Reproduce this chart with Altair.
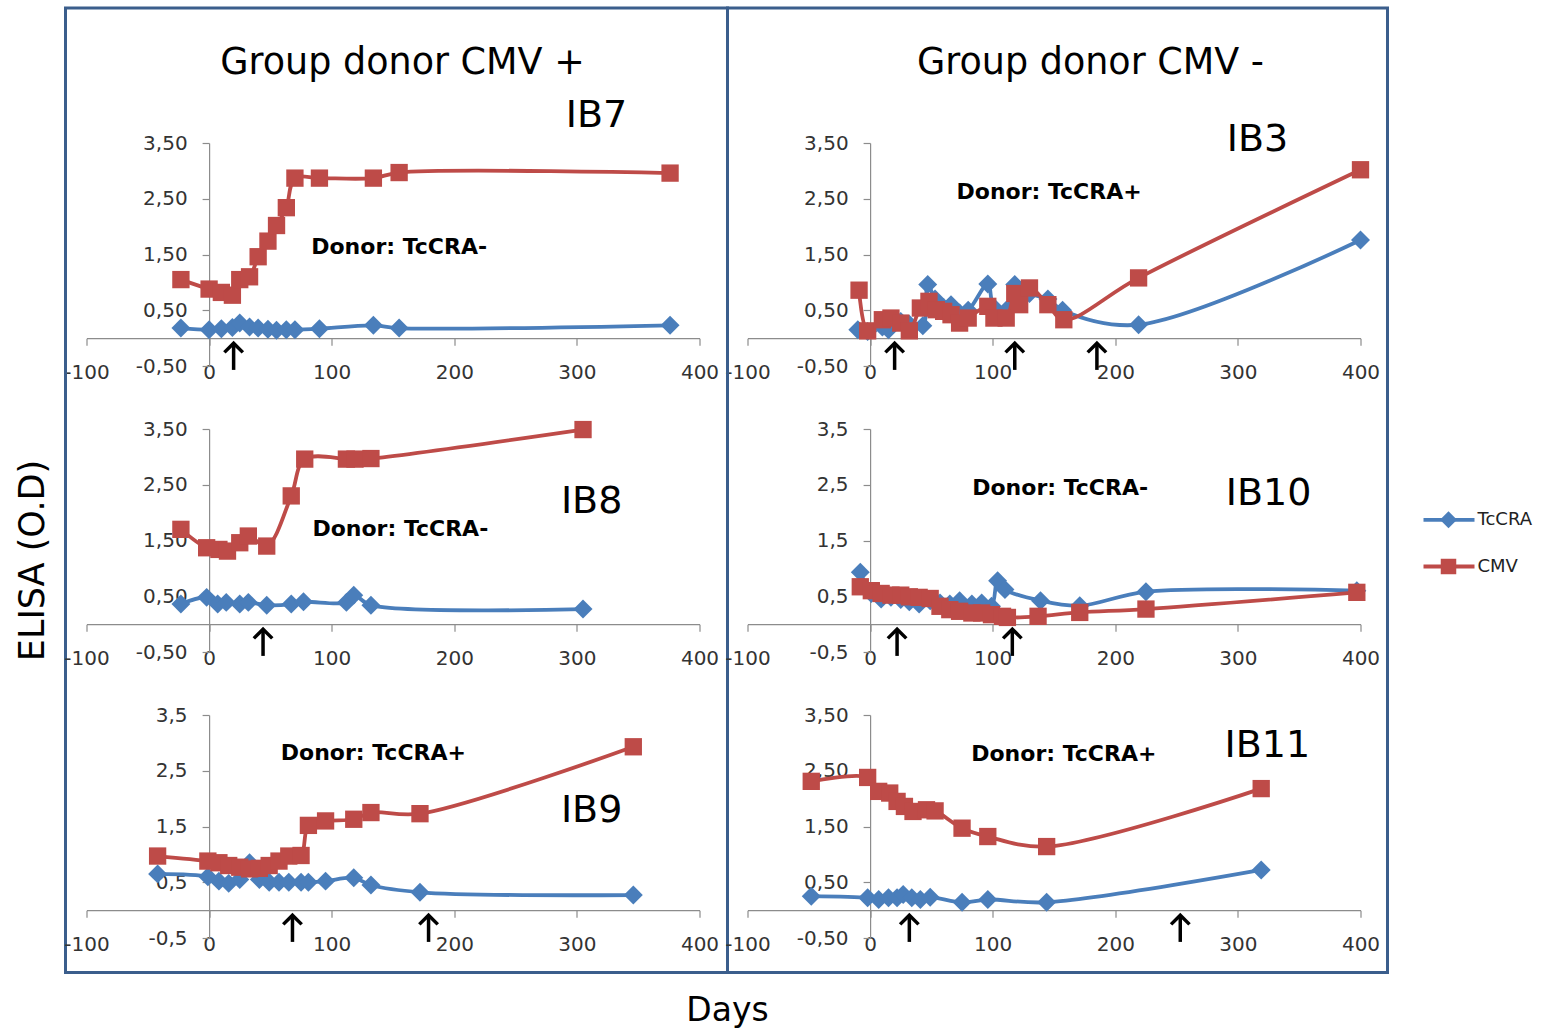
import altair as alt
import pandas as pd

FONT = "DejaVu Sans"
SERIES = ["TcCRA", "CMV"]
COLORS = {"TcCRA": "#4A7EBB", "CMV": "#BE4B48"}
SHAPES = {"TcCRA": "diamond", "CMV": "square"}
SIZES = {"TcCRA": 360, "CMV": 300}
BOX_COLOR = "#3B5E8C"
AXIS_COLOR = "#8C8C8C"
LABEL_COLOR = "#333333"

X_DOMAIN = [-100, 400]
Y_DOMAIN = [-0.5, 3.5]
X_TICKS = [-100, 0, 100, 200, 300, 400]
Y_TICKS = [-0.5, 0.5, 1.5, 2.5, 3.5]

GROUP_TITLES = ["Group donor CMV +", "Group donor CMV -"]
Y_TITLE = ["ELISA (O.D)"]
X_TITLE = ["Days"]

# ---------------- data (days, O.D. values) ----------------
ib7_days = [-23, 0, 10, 19, 25, 33, 40, 48, 55, 63, 70, 90, 134, 155, 376]
ib7_tccra = [0.18, 0.15, 0.17, 0.19, 0.27, 0.20, 0.18, 0.16, 0.14, 0.15, 0.15, 0.17, 0.23, 0.18, 0.23]
ib7_cmv = [1.05, 0.88, 0.82, 0.77, 1.05, 1.10, 1.46, 1.74, 2.02, 2.34, 2.87, 2.87, 2.87, 2.97, 2.96]
ib7_arrows = [20]

ib8_tc_days = [-23, -2, 7, 14, 25, 32, 47, 67, 77, 112, 118, 132, 305]
ib8_tccra = [0.36, 0.48, 0.36, 0.39, 0.36, 0.39, 0.34, 0.36, 0.40, 0.39, 0.52, 0.34, 0.27]
ib8_cmv_days = [-23, -2, 8, 15, 25, 32, 47, 67, 78, 112, 119, 132, 305]
ib8_cmv = [1.70, 1.37, 1.34, 1.31, 1.46, 1.58, 1.40, 2.30, 2.96, 2.96, 2.96, 2.97, 3.49]
ib8_arrows = [44]

ib9_days = [-42, -1, 8, 16, 25, 33, 41, 49, 57, 65, 75, 81, 95, 118, 132, 172, 346]
ib9_tccra = [0.65, 0.60, 0.52, 0.48, 0.55, 0.85, 0.55, 0.50, 0.50, 0.50, 0.50, 0.50, 0.52, 0.58, 0.45, 0.32, 0.27]
ib9_cmv = [0.97, 0.88, 0.85, 0.80, 0.77, 0.74, 0.75, 0.80, 0.88, 0.97, 0.98, 1.52, 1.60, 1.63, 1.75, 1.73, 2.93]
ib9_arrows = [68, 179]

ib3_tc_days = [-10, -2, 10, 15, 25, 32, 43, 47, 53, 60, 66, 73, 80, 96, 101, 111, 118, 130, 145, 157, 219, 400]
ib3_tccra = [0.15, 0.12, 0.20, 0.15, 0.30, 0.25, 0.22, 0.96, 0.70, 0.55, 0.60, 0.45, 0.50, 0.97, 0.55, 0.50, 0.96, 0.80, 0.70, 0.50, 0.24, 1.76]
ib3_cmv_days = [-9, -2, 10, 17, 25, 32, 41, 48, 54, 60, 66, 73, 80, 96, 101, 111, 118, 122, 130, 145, 158, 219, 400]
ib3_cmv = [0.86, 0.13, 0.33, 0.36, 0.27, 0.13, 0.54, 0.66, 0.51, 0.48, 0.42, 0.27, 0.36, 0.57, 0.36, 0.36, 0.80, 0.60, 0.90, 0.60, 0.33, 1.08, 3.02]
ib3_arrows = [20, 118, 185]

ib10_tc_days = [-8, 1, 9, 17, 25, 32, 40, 49, 57, 65, 73, 83, 91, 99, 104, 110, 139, 171, 225, 397]
ib10_tccra = [0.93, 0.55, 0.45, 0.48, 0.44, 0.40, 0.36, 0.42, 0.38, 0.36, 0.42, 0.36, 0.38, 0.32, 0.78, 0.62, 0.42, 0.33, 0.58, 0.60]
ib10_cmv_days = [-8, 1, 9, 17, 25, 32, 40, 49, 57, 65, 73, 83, 91, 99, 108, 112, 137, 171, 225, 397]
ib10_cmv = [0.67, 0.60, 0.55, 0.52, 0.52, 0.49, 0.48, 0.46, 0.32, 0.26, 0.23, 0.20, 0.20, 0.17, 0.14, 0.12, 0.14, 0.21, 0.27, 0.57]
ib10_arrows = [22, 116]

ib11_tc_days = [-48, -2, 7, 15, 22, 27, 34, 41, 49, 75, 96, 144, 319]
ib11_tccra = [0.25, 0.22, 0.19, 0.22, 0.22, 0.28, 0.22, 0.19, 0.23, 0.14, 0.19, 0.14, 0.72]
ib11_cmv_days = [-48, -2, 7, 16, 22, 28, 35, 46, 53, 75, 96, 144, 319]
ib11_cmv = [2.31, 2.38, 2.13, 2.10, 1.95, 1.86, 1.77, 1.80, 1.78, 1.47, 1.32, 1.14, 2.18]
ib11_arrows = [32, 253]

PANELS = {
    "IB7": dict(tc_days=ib7_days, tc=ib7_tccra, cmv_days=ib7_days, cmv=ib7_cmv, arrows=ib7_arrows, donor="Donor: TcCRA-", dec=2),
    "IB8": dict(tc_days=ib8_tc_days, tc=ib8_tccra, cmv_days=ib8_cmv_days, cmv=ib8_cmv, arrows=ib8_arrows, donor="Donor: TcCRA-", dec=2),
    "IB9": dict(tc_days=ib9_days, tc=ib9_tccra, cmv_days=ib9_days, cmv=ib9_cmv, arrows=ib9_arrows, donor="Donor: TcCRA+", dec=1),
    "IB3": dict(tc_days=ib3_tc_days, tc=ib3_tccra, cmv_days=ib3_cmv_days, cmv=ib3_cmv, arrows=ib3_arrows, donor="Donor: TcCRA+", dec=2),
    "IB10": dict(tc_days=ib10_tc_days, tc=ib10_tccra, cmv_days=ib10_cmv_days, cmv=ib10_cmv, arrows=ib10_arrows, donor="Donor: TcCRA-", dec=1),
    "IB11": dict(tc_days=ib11_tc_days, tc=ib11_tccra, cmv_days=ib11_cmv_days, cmv=ib11_cmv, arrows=ib11_arrows, donor="Donor: TcCRA+", dec=2),
}

# annotation anchors (in data units): panel name label, donor label
LABEL_AT = {
    "IB7": ((316, 3.99), (155, 1.64)),
    "IB8": ((312, 2.19), (156, 1.70)),
    "IB9": ((312, 1.77), (134, 2.81)),
    "IB3": ((316, 3.55), (146, 2.63)),
    "IB10": ((325, 2.34), (155, 2.44)),
    "IB11": ((324, 2.95), (158, 2.80)),
}
ARROW_TIP = -0.09
ARROW_TAIL = -0.57

# ---------------- layout ----------------
W, H = 613, 223
X_AXIS_OFFSET = -H * (0 - Y_DOMAIN[0]) / (Y_DOMAIN[1] - Y_DOMAIN[0])
Y_AXIS_OFFSET = -W * (0 - X_DOMAIN[0]) / (X_DOMAIN[1] - X_DOMAIN[0])

rows = []
for name, p in PANELS.items():
    for d, v in zip(p["tc_days"], p["tc"]):
        rows.append(dict(panel=name, series="TcCRA", day=d, value=v))
    for d, v in zip(p["cmv_days"], p["cmv"]):
        rows.append(dict(panel=name, series="CMV", day=d, value=v))
df = pd.DataFrame(rows)


def x_enc(field="day"):
    return alt.X(
        f"{field}:Q", title=None,
        scale=alt.Scale(domain=X_DOMAIN, nice=False, zero=False),
        axis=alt.Axis(values=X_TICKS, offset=X_AXIS_OFFSET, grid=False,
                      domainColor=AXIS_COLOR, domainWidth=1.2,
                      tickColor=AXIS_COLOR, tickWidth=1.2, tickSize=7,
                      labelFont=FONT, labelFontSize=20, labelColor=LABEL_COLOR,
                      labelPadding=17, labelFlush=False, labelOverlap=False,
                      labelExpr="datum.value + ''"),
    )


def y_enc(field, dec):
    expr = ("(datum.value < 0 ? '-' : '') + "
            f"replace(format(abs(datum.value), '.{dec}f'), '.', ',')")
    return alt.Y(
        f"{field}:Q", title=None,
        scale=alt.Scale(domain=Y_DOMAIN, nice=False, zero=False),
        axis=alt.Axis(values=Y_TICKS, offset=Y_AXIS_OFFSET, grid=False,
                      domainColor=AXIS_COLOR, domainWidth=1.2,
                      tickColor=AXIS_COLOR, tickWidth=1.2, tickSize=7,
                      labelFont=FONT, labelFontSize=20, labelColor=LABEL_COLOR,
                      labelPadding=15, labelFlush=False, labelOverlap=False,
                      labelExpr=expr),
    )


def one_row(**kw):
    return pd.DataFrame({k: [v] for k, v in kw.items()})


def decorations(name):
    layers = []
    if name in ("IB7", "IB3"):
        i = 0 if name == "IB7" else 1
        x0, x1 = (-21, 641) if i == 0 else (-20, 640)
        layers.append(
            alt.Chart(one_row(b=0)).mark_rect(fillOpacity=0, stroke=BOX_COLOR, strokeWidth=3)
            .encode(x=alt.value(x0), x2=alt.value(x1), y=alt.value(-135), y2=alt.value(829.5))
        )
        layers.append(
            alt.Chart(one_row(t=GROUP_TITLES[i])).mark_text(fontSize=36.5, font=FONT, color="black")
            .encode(x=alt.value(316 if i == 0 else 343), y=alt.value(-80), text="t:N")
        )
    if name == "IB8":
        layers.append(
            alt.Chart(one_row(t=Y_TITLE[0])).mark_text(fontSize=35, font=FONT, color="black", angle=270)
            .encode(x=alt.value(-54), y=alt.value(131.5), text="t:N")
        )
    if name == "IB9":
        layers.append(
            alt.Chart(one_row(t=X_TITLE[0])).mark_text(fontSize=33, font=FONT, color="black")
            .encode(x=alt.value(641), y=alt.value(295.5), text="t:N")
        )
    if name == "IB10":
        leg_y = [90.8, 137.5]
        for s, yy in zip(SERIES, leg_y):
            d = pd.DataFrame({"series": [s]})
            layers.append(
                alt.Chart(d).mark_rule(color=COLORS[s], strokeWidth=3.8)
                .encode(x=alt.value(676), x2=alt.value(727), y=alt.value(yy))
            )
            layers.append(
                alt.Chart(d).mark_point(filled=True, shape=SHAPES[s], size=SIZES[s] * 0.8,
                                        color=COLORS[s], opacity=1)
                .encode(x=alt.value(701), y=alt.value(yy))
            )
            layers.append(
                alt.Chart(d).mark_text(align="left", baseline="middle", fontSize=18,
                                       font=FONT, color="#222222")
                .encode(x=alt.value(730), y=alt.value(yy), text="series:N")
            )
    return layers


def panel(name):
    p = PANELS[name]
    dec = p["dec"]
    layers = []
    for s in SERIES:
        d = df[(df.panel == name) & (df.series == s)]
        layers.append(
            alt.Chart(d).mark_line(interpolate="catmull-rom", color=COLORS[s], strokeWidth=3.8)
            .encode(x=x_enc(), y=y_enc("value", dec))
        )
        layers.append(
            alt.Chart(d).mark_point(filled=True, shape=SHAPES[s], size=SIZES[s], color=COLORS[s], opacity=1)
            .encode(x=x_enc(), y=y_enc("value", dec))
        )
    arr = pd.DataFrame({"day": p["arrows"]})
    arr["tip"] = ARROW_TIP
    arr["tail"] = ARROW_TAIL
    layers.append(
        alt.Chart(arr).mark_rule(color="black", strokeWidth=3.5)
        .encode(x=x_enc(), y=y_enc("tip", dec), y2="tail:Q")
    )
    layers.append(
        alt.Chart(arr).mark_point(shape="M-1,1L0,0L1,1", filled=False, color="black",
                                  strokeWidth=3.5, size=340, opacity=1)
        .encode(x=x_enc(), y=y_enc("tip", dec))
    )
    (ix, iy), (dx, dy) = LABEL_AT[name]
    lab = pd.DataFrame({"day": [ix, dx], "value": [iy, dy], "text": [name, p["donor"]],
                        "kind": ["ib", "donor"]})
    layers.append(
        alt.Chart(lab[lab.kind == "ib"]).mark_text(fontSize=38, font=FONT, color="black")
        .encode(x=x_enc(), y=y_enc("value", dec), text="text:N")
    )
    layers.append(
        alt.Chart(lab[lab.kind == "donor"]).mark_text(fontSize=22, font=FONT, fontWeight="bold", color="black")
        .encode(x=x_enc(), y=y_enc("value", dec), text="text:N")
    )
    layers += decorations(name)
    return alt.layer(*layers).properties(width=W, height=H)


order = ["IB7", "IB3", "IB8", "IB10", "IB9", "IB11"]
chart = alt.concat(
    *[panel(n) for n in order], columns=2,
    spacing={"row": 63, "column": 48}, bounds="flush",
).properties(
    padding={"left": 14.5, "top": 6, "right": 5, "bottom": 5}
).configure_view(stroke="transparent")

chart.save("out.html", embed_options={"renderer": "svg", "actions": False})
